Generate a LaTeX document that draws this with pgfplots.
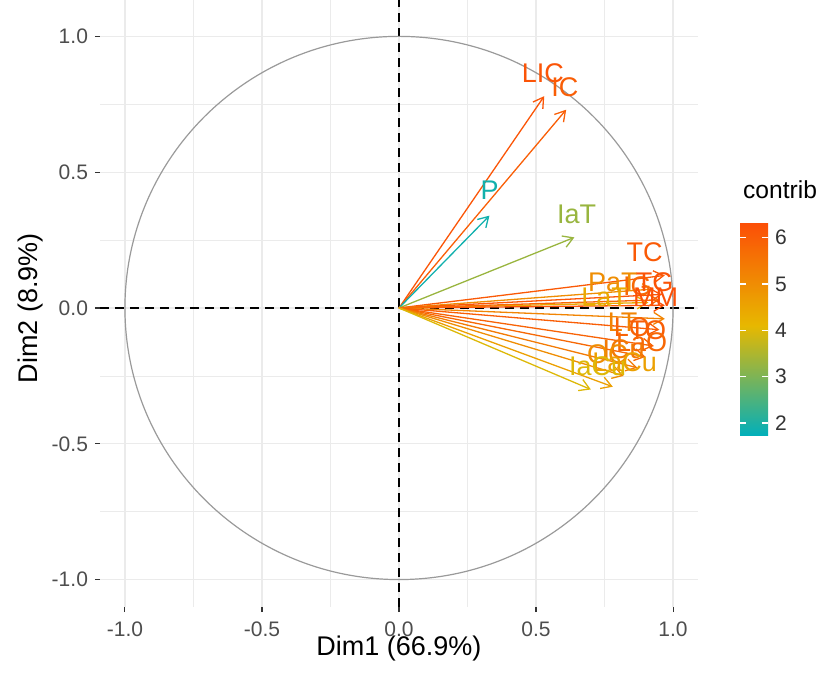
\documentclass[border=0pt]{standalone}
\usepackage{pgfplots}
\pgfplotsset{compat=1.18}
\usepackage{pgfplotstable}
\usepackage{fontspec}
\setmainfont{Liberation Sans}
\usetikzlibrary{arrows.meta}
\definecolor{tickgray}{HTML}{4D4D4D}
\definecolor{gridgray}{HTML}{EBEBEB}
\definecolor{circgray}{HTML}{9A9A9A}
\definecolor{ggteal}{RGB}{0,175,187}
\definecolor{ggyel}{RGB}{231,184,0}
\definecolor{ggred}{RGB}{252,78,7}

\pgfplotstableread{
u v c
0.53 0.78 6.2
0.61 0.73 6.0
0.33 0.34 1.9
0.64 0.26 3.3
0.97 0.12 6.1
0.93 0.07 5.0
0.96 0.05 6.2
0.91 0.02 4.4
0.97 0.01 6.3
0.95 0.03 5.8
0.97 -0.04 5.2
0.95 -0.08 6.0
0.93 -0.14 5.9
0.90 -0.18 5.8
0.87 -0.22 5.4
0.82 -0.25 5.0
0.78 -0.29 4.6
0.70 -0.30 4.0
}\arrowdata

\newcommand{\lbl}[4]{\node[text=#3, font=\fontsize{13.5}{14}\selectfont, inner sep=0pt] at (axis cs:#1,#2) {#4};}

\begin{document}
\begin{tikzpicture}
\useasboundingbox (-50pt,-34pt) rectangle (362pt,303.5pt);
\begin{axis}[
  scale only axis, width=299pt, height=303.5pt,
  at={(0,0)}, anchor=south west,
  xmin=-1.091, xmax=1.091, ymin=-1.101, ymax=1.134,
  axis x line*=bottom, axis y line*=left, axis line style={draw=none},
  xtick={-1,-0.5,0,0.5,1}, ytick={-1,-0.5,0,0.5,1},
  minor xtick={-0.75,-0.25,0.25,0.75}, minor ytick={-0.75,-0.25,0.25,0.75},
  grid=both,
  major grid style={gridgray, line width=0.6pt},
  minor grid style={gridgray, line width=0.3pt},
  tick align=outside, major tick length=2.5pt, minor tick length=0pt,
  tick style={color=black!80, line width=0.55pt},
  xticklabel style={yshift=-1.5pt, font=\fontsize{10.5}{12}\selectfont, text=tickgray, /pgf/number format/.cd, fixed, fixed zerofill, precision=1, assume math mode=true},
  yticklabel style={font=\fontsize{10.5}{12}\selectfont, text=tickgray, /pgf/number format/.cd, fixed, fixed zerofill, precision=1, assume math mode=true},
  xlabel={Dim1 (66.9\%)}, ylabel={Dim2 (8.9\%)},
  label style={font=\fontsize{13.5}{15}\selectfont},
  xlabel style={at={(axis description cs:0.5,-0.069)}, anchor=center},
  ylabel style={at={(axis description cs:-0.117,0.4926)}, anchor=center},
  colormap={ggc}{rgb255(0cm)=(0,175,187); rgb255(5.15cm)=(231,184,0); rgb255(10cm)=(252,78,7)},
  point meta min=1.72, point meta max=6.34,
  colorbar,
  colorbar style={
    at={(parent axis.north east)}, anchor=north west, xshift=12.5pt, yshift=-111pt,
    scale only axis, width=14pt, height=107pt,
    ytick={2,3,4,5,6}, yticklabel pos=right, ytick pos=both,
    tick style={white, line width=0.6pt}, major tick length=2.8pt, tick align=inside,
    axis line style={draw=none},
    yticklabel style={font=\fontsize{10.5}{12}\selectfont, text=black!80, /pgf/number format/.cd, fixed, precision=0, assume math mode=true},
    title={contrib},
    title style={at={(0,1)}, anchor=south west, xshift=-2pt, yshift=2pt, font=\fontsize{12.3}{14}\selectfont},
  },
]
\draw[black, line width=1pt, dash pattern=on 4.5pt off 3pt] (axis cs:0,-1.101) -- (axis cs:0,1.134);
\draw[black, line width=1pt, dash pattern=on 4.5pt off 3pt] (axis cs:-1.091,0) -- (axis cs:1.091,0);
\draw[circgray, line width=0.6pt] (axis cs:0,0) ellipse [x radius=1, y radius=1];
\addplot[-{Straight Barb[length=5pt,width=6pt]}, line width=0.65pt,
  quiver={u=\thisrow{u}, v=\thisrow{v}, colored},
  point meta=\thisrow{c}]
  table[x expr=0, y expr=0] {\arrowdata};
\lbl{0.525}{0.866}{ggred!94!ggyel}{LIC}
\lbl{0.605}{0.814}{ggred!85!ggyel}{IC}
\lbl{0.331}{0.435}{ggyel!8!ggteal}{P}
\lbl{0.648}{0.346}{ggyel!66!ggteal}{IaT}
\lbl{0.896}{0.206}{ggred!89!ggyel}{TC}
\lbl{0.780}{0.096}{ggred!40!ggyel}{PaT}
\lbl{0.870}{0.080}{ggred!76!ggyel}{IG}
\lbl{0.933}{0.096}{ggred!94!ggyel}{TG}
\lbl{0.750}{0.040}{ggred!13!ggyel}{LaT}
\lbl{0.936}{0.040}{ggred!98!ggyel}{MM}
\lbl{0.816}{-0.052}{ggred!49!ggyel}{LT}
\lbl{0.850}{-0.070}{ggred!80!ggyel}{LO}
\lbl{0.907}{-0.081}{ggred!85!ggyel}{TO}
\lbl{0.885}{-0.125}{ggred!76!ggyel}{LaO}
\lbl{0.820}{-0.150}{ggred!58!ggyel}{ICu}
\lbl{0.760}{-0.170}{ggred!40!ggyel}{OC}
\lbl{0.823}{-0.200}{ggred!22!ggyel}{LaCu}
\lbl{0.725}{-0.214}{ggyel!96!ggteal}{IaCu}
\end{axis}
\end{tikzpicture}
\end{document}
